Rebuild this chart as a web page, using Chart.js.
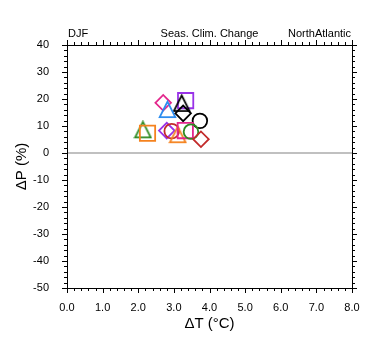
<!DOCTYPE html>
<html>
<head>
<meta charset="utf-8">
<script src="https://cdn.jsdelivr.net/npm/chart.js@4/dist/chart.umd.min.js"></script>
<style>
html,body{margin:0;padding:0;background:#fff;}
#wrap{width:380px;height:355px;}
</style>
</head>
<body>
<div id="wrap"><canvas id="c" width="380" height="355"></canvas></div>
<script>
// ---- data ----
const season = 'DJF';
const chartTitle = 'Seas. Clim. Change';
const region = 'NorthAtlantic';
const dT = [2.70, 3.33, 3.22, 2.82, 3.26, 3.73, 2.13, 2.26, 2.80, 2.94, 3.11, 3.32, 3.48, 3.76];
const dP = [18.6, 19.4, 18.4, 16.1, 14.7, 11.9, 8.6, 7.3, 8.3, 8.1, 6.8, 8.3, 7.9, 5.1];
const xTickValues = [0, 1, 2, 3, 4, 5, 6, 7, 8];
const yTickValues = [-50, -40, -30, -20, -10, 0, 10, 20, 30, 40];

// ---- styles ----
const markerShape = ['diamond','square','triangle','triangle','diamond','circle','triangle','square','diamond','circle','triangle','square','circle','diamond'];
const markerColor = ['#e3268c','#9932e8','#000000','#2a8cf0','#000000','#000000','#2e8b22','#f5821e','#9932e8','#c22a2a','#f5821e','#e3268c','#2e8b22','#c22a2a'];

function makeTri(color){
  const cv = document.createElement('canvas');
  cv.width = 19; cv.height = 19;
  const g = cv.getContext('2d');
  g.strokeStyle = color; g.lineWidth = 1.8; g.lineJoin = 'miter';
  g.beginPath();
  g.moveTo(9.5, 1.6);
  g.lineTo(17.3, 17.2);
  g.lineTo(1.7, 17.2);
  g.closePath();
  g.stroke();
  return cv;
}
const styleMap = {diamond:'rectRot', square:'rect', circle:'circle'};
const radiusMap = {diamond:7.8, square:10.8, circle:7.3, triangle:9};
const pStyles = markerShape.map((s,i)=> s==='triangle' ? makeTri(markerColor[i]) : styleMap[s]);
const pRadius = markerShape.map(s=>radiusMap[s]);
const points = dT.map((x,i)=>({x:x, y:dP[i]}));

const FONT = 'Liberation Sans, Arial, Helvetica, sans-serif';

const framePlugin = {
  id:'frame',
  afterDraw(chart){
    const {ctx, chartArea:a, scales:{x, y}} = chart;
    ctx.save();
    ctx.strokeStyle = '#000';
    ctx.lineWidth = 1;
    ctx.strokeRect(Math.round(a.left)+0.5, Math.round(a.top)+0.5, Math.round(a.right-a.left), Math.round(a.bottom-a.top));
    ctx.beginPath();
    // x ticks (major every 1, minor every 0.2), outward on bottom and top
    for(let k=0;k<=40;k++){
      const v = k*0.2;
      const px = Math.round(x.getPixelForValue(v))+0.5;
      const len = (k%5===0)?5:3;
      ctx.moveTo(px, a.bottom); ctx.lineTo(px, a.bottom+len);
      ctx.moveTo(px, a.top); ctx.lineTo(px, a.top-len);
    }
    // y ticks (major every 10, minor every 2), outward on left and right
    for(let v=-50; v<=40; v+=2){
      const py = Math.round(y.getPixelForValue(v))+0.5;
      const len = (v%10===0)?5:3;
      ctx.moveTo(a.left, py); ctx.lineTo(a.left-len, py);
      ctx.moveTo(a.right, py); ctx.lineTo(a.right+len, py);
    }
    ctx.stroke();
    // header texts
    ctx.fillStyle = '#000';
    ctx.font = '11px ' + FONT;
    ctx.textBaseline = 'alphabetic';
    ctx.textAlign = 'left';
    ctx.fillText(season, a.left+1, 37);
    ctx.textAlign = 'center';
    ctx.fillText(chartTitle, 209.5, 37);
    ctx.textAlign = 'right';
    ctx.fillText(region, a.right-1, 37);
    ctx.restore();
  }
};

new Chart(document.getElementById('c'), {
  type: 'scatter',
  data: {
    datasets: [
      {
        type:'scatter',
        data: points,
        pointStyle: pStyles,
        pointRadius: pRadius,
        pointHoverRadius: pRadius,
        pointBorderColor: markerColor,
        pointBackgroundColor: 'rgba(0,0,0,0)',
        pointBorderWidth: 1.8,
        order: 0
      },
      {
        type:'line',
        data: [{x:0,y:0},{x:8,y:0}],
        borderColor: '#ababab',
        borderWidth: 1.5,
        pointRadius: 0,
        fill: false,
        order: 10
      }
    ]
  },
  options: {
    responsive: false,
    animation: false,
    events: [],
    layout: {padding: {top: 45, right: 28, left: 0, bottom: 0}},
    plugins: {legend: {display: false}, tooltip: {enabled: false}},
    scales: {
      x: {
        type: 'linear', min: 0, max: 8,
        afterFit(s){ s.height = 67; },
        afterBuildTicks(s){ s.ticks = xTickValues.map(v=>({value:v})); },
        grid: {display: false, drawTicks: false},
        border: {display: false},
        ticks: {autoSkip: false, maxRotation: 0, padding: 13, color: '#000',
                font: {family: FONT, size: 11},
                callback: v => Number(v).toFixed(1)},
        title: {display: true, text: 'ΔT (°C)', color: '#000',
                font: {family: FONT, size: 15}, padding: {top: 0, bottom: 22}}
      },
      y: {
        type: 'linear', min: -50, max: 40,
        afterFit(s){ s.width = 67; },
        afterBuildTicks(s){ s.ticks = yTickValues.map(v=>({value:v})); },
        grid: {display: false, drawTicks: false},
        border: {display: false},
        ticks: {autoSkip: false, padding: 18, color: '#000',
                font: {family: FONT, size: 11}},
        title: {display: true, text: 'ΔP (%)', color: '#000',
                font: {family: FONT, size: 15}, padding: {top: 13, bottom: 0}}
      }
    }
  },
  plugins: [framePlugin]
});
</script>
</body>
</html>
